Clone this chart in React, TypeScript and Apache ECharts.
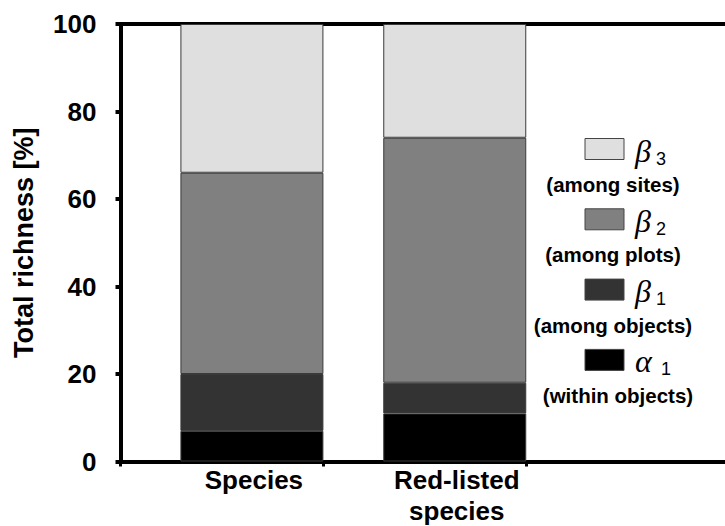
import React, { useEffect, useRef } from "react";
import * as echarts from "echarts";

const categories = ["Species", "Red-listed\nspecies"];
const alpha1 = [7, 11];
const beta1 = [13, 7];
const beta2 = [46, 56];
const beta3 = [34, 26];

const seriesNames = ["α1", "β1", "β2", "β3"];
const seriesGreek = ["α", "β", "β", "β"];
const seriesSub = ["1", "1", "2", "3"];
const seriesDesc = ["(within objects)", "(among objects)", "(among plots)", "(among sites)"];
const seriesColors = ["#000000", "#333333", "#808080", "#dfdfdf"];

const yMin = 0;
const yMax = 100;
const yInterval = 20;

const SANS = "Liberation Sans, Arial, sans-serif";
const SERIF = "Liberation Serif, Times New Roman, serif";

export default function App() {
  const ref = useRef<HTMLDivElement>(null);

  useEffect(() => {
    if (!ref.current) return;
    const chart = echarts.init(ref.current, undefined, { renderer: "svg" });
    const values = [alpha1, beta1, beta2, beta3];

    const legendGraphics: any[] = [];
    for (let k = 0; k < 4; k++) {
      const i = 3 - k;
      const top = 138.5 + k * 70.3;
      legendGraphics.push({
        type: "rect",
        shape: { x: 585, y: top, width: 39, height: 21 },
        style: { fill: seriesColors[i], stroke: "#444", lineWidth: 1 },
      });
      legendGraphics.push({
        type: "text",
        x: 635,
        y: top + 12,
        style: {
          text: seriesGreek[i],
          fontFamily: SERIF,
          fontStyle: "italic",
          fontSize: 32,
          fill: "#000",
          align: "left",
          verticalAlign: "middle",
        },
      });
      legendGraphics.push({
        type: "text",
        x: seriesGreek[i] === "α" ? 661 : 656,
        y: top + 20,
        style: {
          text: seriesSub[i],
          fontFamily: SANS,
          fontSize: 18,
          fill: "#000",
          align: "left",
          verticalAlign: "middle",
        },
      });
      legendGraphics.push({
        type: "text",
        x: i === 0 ? 618 : 613,
        y: top + 46,
        style: {
          text: seriesDesc[i],
          fontFamily: SANS,
          fontWeight: "bold",
          fontSize: 20.5,
          fill: "#000",
          align: "center",
          verticalAlign: "middle",
        },
      });
    }
    legendGraphics.push({
      type: "rect",
      shape: { x: 714, y: 27, width: 14, height: 432 },
      style: { fill: "#ffffff" },
      zlevel: 1,
      z: 1000,
      silent: true,
    });

    const axisLabelStyle = {
      color: "#000",
      fontFamily: SANS,
      fontWeight: "bold",
      fontSize: 26,
    };

    const option: any = {
      animation: false,
      backgroundColor: "#ffffff",
      grid: {
        left: 120.5,
        right: -4,
        top: 24,
        bottom: 64.5,
        outerBoundsMode: "none",
        show: false,
      },
      xAxis: [
        {
          type: "category",
          data: [...categories, ""],
          position: "bottom",
          axisLine: { show: true, lineStyle: { color: "#000", width: 4 } },
          axisTick: { show: true, length: 5, lineStyle: { color: "#000", width: 3 } },
          axisLabel: {
            ...axisLabelStyle,
            interval: 0,
            lineHeight: 31,
            margin: 3,
            padding: [0, 0, 0, 64],
          },
          splitLine: { show: false },
        },
        {
          type: "category",
          data: [...categories, ""],
          position: "top",
          axisLine: { show: true, lineStyle: { color: "#000", width: 4 } },
          axisTick: { show: false },
          axisLabel: { show: false },
          splitLine: { show: false },
        },
      ],
      yAxis: {
        type: "value",
        min: yMin,
        max: yMax,
        interval: yInterval,
        name: "Total richness [%]",
        nameLocation: "middle",
        nameGap: 83,
        nameTextStyle: { ...axisLabelStyle, fontSize: 27 },
        axisLine: { show: true, lineStyle: { color: "#000", width: 4 } },
        axisTick: { show: true, length: 5, lineStyle: { color: "#000", width: 4 } },
        axisLabel: { ...axisLabelStyle, margin: 24 },
        splitLine: { show: false },
      },
      series: [
        {
          type: "bar",
          name: "spacer",
          barWidth: 60,
          barGap: "0%",
          silent: true,
          data: categories.map(() => 0),
          itemStyle: { color: "transparent", borderWidth: 0 },
        },
        ...seriesNames.map((name, i) => ({
          type: "bar",
          name,
          stack: "total",
          barWidth: 143,
          barGap: "0%",
          data: values[i],
          itemStyle: { color: seriesColors[i], borderColor: "#3a3a3a", borderWidth: 1 },
        })),
      ],
      graphic: legendGraphics,
    };

    chart.setOption(option);
    return () => chart.dispose();
  }, []);

  return <div ref={ref} style={{ position: "fixed", left: 0, top: 0, width: 725, height: 526 }} />;
}
